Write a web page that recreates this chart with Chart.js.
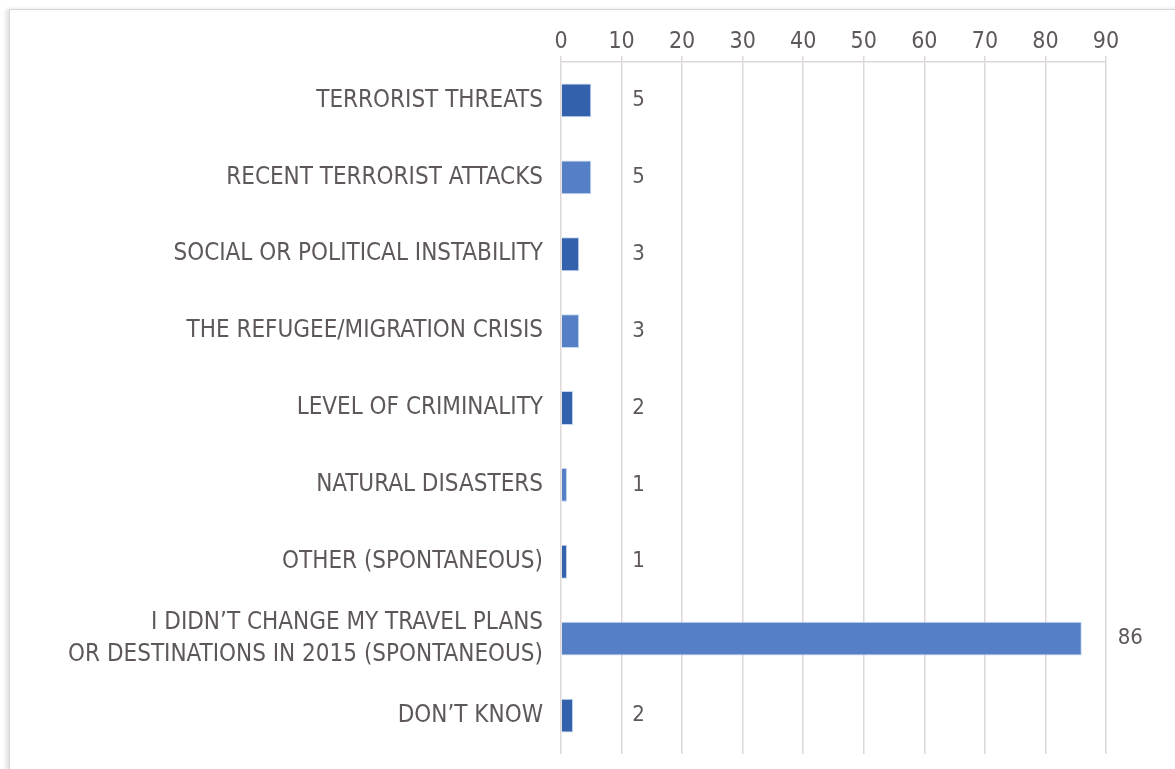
<!DOCTYPE html>
<html>
<head>
<meta charset="utf-8">
<script src="https://cdn.jsdelivr.net/npm/chart.js@4"></script>
<style>
  html, body { margin: 0; padding: 0; background: #fff; }
  body { width: 1175px; height: 769px; overflow: hidden; position: relative; }
  #frame { position: absolute; left: 9px; top: 9px; width: 1200px; height: 800px;
           border: 1px solid #d6d6d6; box-shadow: -3px 0 4px rgba(0,0,0,0.12); }
  #c { position: absolute; left: 0; top: 0; }
</style>
</head>
<body>
<div id="frame"></div>
<canvas id="c" width="1175" height="769"></canvas>
<script>
const categories = [
  'TERRORIST THREATS',
  'RECENT TERRORIST ATTACKS',
  'SOCIAL OR POLITICAL INSTABILITY',
  'THE REFUGEE/MIGRATION CRISIS',
  'LEVEL OF CRIMINALITY',
  'NATURAL DISASTERS',
  'OTHER (SPONTANEOUS)',
  ['I DIDN\u2019T CHANGE MY TRAVEL PLANS', 'OR DESTINATIONS IN 2015 (SPONTANEOUS)'],
  'DON\u2019T KNOW'
];
const values = [5, 5, 3, 3, 2, 1, 1, 86, 2];
const xTicks = [0, 10, 20, 30, 40, 50, 60, 70, 80, 90];

const DARK = '#3461ab', LIGHT = '#5580c6';
const FONT = "'Liberation Sans Narrow', 'DejaVu Sans Condensed', sans-serif";
const TXT = '#5e5859';

// value labels: sit right of the bar, small bars share one column
const valueLabels = {
  id: 'valueLabels',
  afterDatasetsDraw(chart){
    const ctx = chart.ctx;
    const xs = chart.scales.x;
    const meta = chart.getDatasetMeta(0);
    ctx.save();
    ctx.font = '22px ' + FONT;
    ctx.fillStyle = TXT;
    ctx.textAlign = 'left';
    ctx.textBaseline = 'middle';
    meta.data.forEach((bar, i)=>{
      const x = xs.getPixelForValue(Math.max(values[i], 5)) + (values[i] > 5 ? 36 : 41);
      ctx.fillText(String(values[i]), x, bar.y);
    });
    ctx.restore();
  }
};

new Chart(document.getElementById('c').getContext('2d'), {
  type: 'bar',
  data: {
    labels: categories,
    datasets: [{
      data: values,
      backgroundColor: values.map((v,i)=> i % 2 === 0 ? DARK : LIGHT),
      borderColor: 'rgba(190,210,240,0.9)',
      borderWidth: 1,
      barPercentage: 0.44,
      categoryPercentage: 1
    }]
  },
  options: {
    indexAxis: 'y',
    responsive: false,
    animation: false,
    layout: { padding: { left: 0, right: 69, top: 0, bottom: 15 } },
    plugins: { legend: { display: false }, tooltip: { enabled: false } },
    scales: {
      x: {
        position: 'top',
        min: 0, max: 90,
        afterBuildTicks(scale){ scale.ticks = xTicks.map(v=>({ value: v })); },
        afterFit(scale){ scale.height = 62; },
        grid: { color: '#ddd7d7', lineWidth: 1.5, tickLength: 6, tickColor: '#ddd7d7' },
        border: { color: '#ddd7d7', width: 1.5 },
        ticks: { color: TXT, font: { family: FONT, size: 23 }, padding: 0, maxRotation: 0 }
      },
      y: {
        afterFit(scale){ scale.width = 561; scale.paddingTop = 0; scale.paddingBottom = 0; },
        grid: { display: false },
        border: { display: false },
        ticks: { color: TXT, font: { family: FONT, size: 24, lineHeight: 1.3 }, padding: 10 }
      }
    }
  },
  plugins: [valueLabels]
});
</script>
</body>
</html>
